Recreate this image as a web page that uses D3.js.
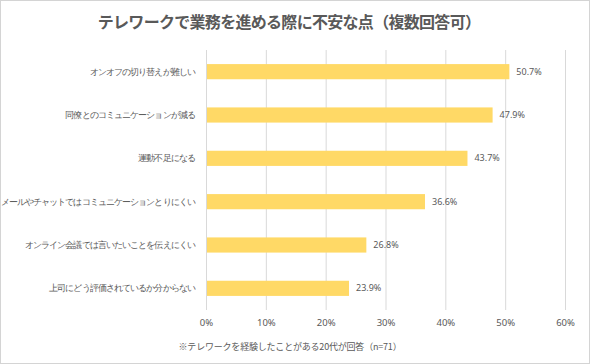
<!DOCTYPE html>
<html><head><meta charset="utf-8">
<script src="https://cdn.jsdelivr.net/npm/d3@7"></script>
<style>
html,body{margin:0;padding:0;background:#fff;}
svg{display:block;font-family:"Noto Sans CJK JP","Noto Sans",sans-serif;}
</style></head>
<body>
<svg id="chart" width="590" height="364"></svg>
<script>
const title = "テレワークで業務を進める際に不安な点（複数回答可）";
const footnote = "※テレワークを経験したことがある20代が回答（n=71）";
const categories = [
  "オンオフの切り替えが難しい",
  "同僚とのコミュニケーションが減る",
  "運動不足になる",
  "メールやチャットではコミュニケーションとりにくい",
  "オンライン会議では言いたいことを伝えにくい",
  "上司にどう評価されているか分からない"
];
const values = [50.7, 47.9, 43.7, 36.6, 26.8, 23.9];
const ticks = [0, 10, 20, 30, 40, 50, 60];

const W = 590, H = 364;
const m = {left: 206, right: 25, top: 50, bottom: 54};
const svg = d3.select("#chart");

svg.append("rect").attr("x",0.5).attr("y",0.5).attr("width",W-1).attr("height",H-1)
  .attr("fill","#fff").attr("stroke","#d4d4d4");

const x = d3.scaleLinear().domain([0,60]).range([m.left, W - m.right]);
const y = d3.scaleBand().domain(categories).range([m.top, H - m.bottom]).paddingInner(0.65).paddingOuter(0.325);

// gridlines
svg.append("g").selectAll("line").data(ticks).join("line")
  .attr("x1", d => x(d)+0.5).attr("x2", d => x(d)+0.5)
  .attr("y1", m.top).attr("y2", H - m.bottom)
  .attr("stroke", "#d9d9d9").attr("stroke-width", 1);

// x axis labels
const xAxis = d3.axisBottom(x).tickValues(ticks).tickFormat(d => d + "%").tickSize(0).tickPadding(9);
const gx = svg.append("g").attr("transform", `translate(0,${H - m.bottom})`).call(xAxis);
gx.select(".domain").remove();
gx.selectAll("text").attr("fill","#595959").style("font-size","9.5px").style("font-family","'Noto Sans','DejaVu Sans',sans-serif");

// y axis labels
const yAxis = d3.axisLeft(y).tickSize(0).tickPadding(11);
const gy = svg.append("g").attr("transform", `translate(${m.left},0)`).call(yAxis);
gy.select(".domain").remove();
gy.selectAll("text").attr("fill","#595959").style("font-size","9px").style("letter-spacing","-0.9px");

// bars
svg.append("g").selectAll("rect").data(values).join("rect")
  .attr("x", x(0)+1)
  .attr("y", (d,i) => y(categories[i]))
  .attr("width", d => x(d) - x(0) - 1)
  .attr("height", y.bandwidth())
  .attr("fill", "#FFD966");

// value labels
svg.append("g").selectAll("text").data(values).join("text")
  .attr("x", d => x(d) + 7)
  .attr("y", (d,i) => y(categories[i]) + y.bandwidth()/2)
  .attr("dy","0.35em")
  .attr("fill","#595959")
  .style("font-size","9px")
  .style("font-family","'Noto Sans','DejaVu Sans',sans-serif")
  .text(d => d.toFixed(1) + "%");

// title
svg.append("text").attr("x", 289).attr("y", 28).attr("text-anchor","middle")
  .attr("fill","#595959").style("font-size","16px").style("font-weight","bold")
  .style("letter-spacing","-0.7px").text(title);

// footnote
svg.append("text").attr("x", 290).attr("y", 350).attr("text-anchor","middle")
  .attr("fill","#595959").style("font-size","9px").style("letter-spacing","-0.2px").text(footnote);
</script>
</body></html>
